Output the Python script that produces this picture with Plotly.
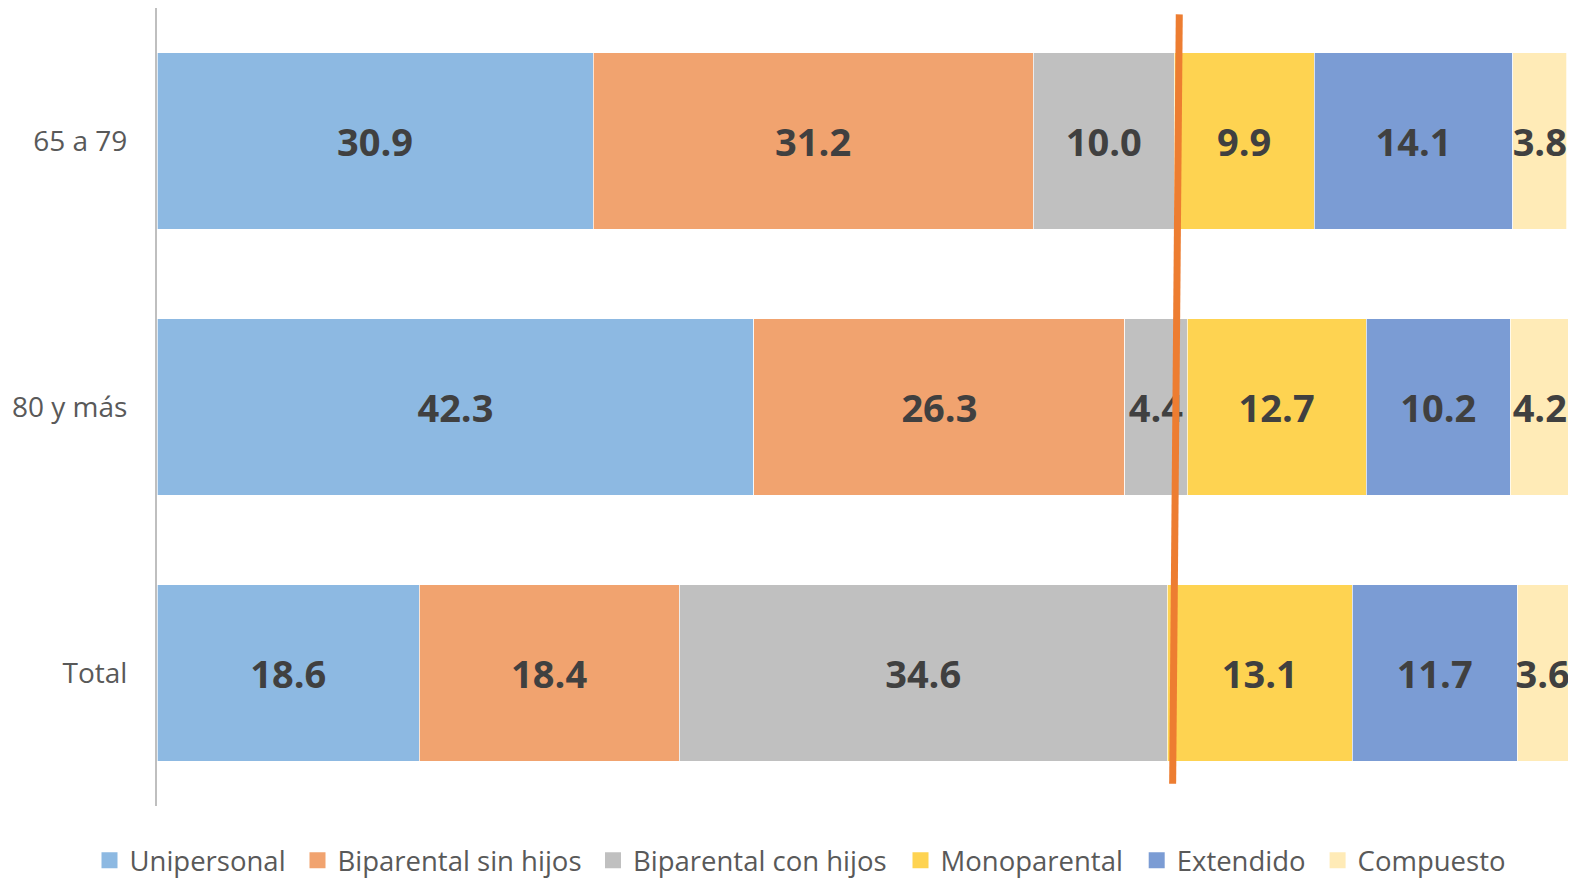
import plotly.graph_objects as go

categories = ["Total", "80 y más", "65 a 79"]
series_names = ["Unipersonal", "Biparental sin hijos", "Biparental con hijos",
                "Monoparental", "Extendido", "Compuesto"]
unipersonal = [18.6, 42.3, 30.9]
biparental_sin_hijos = [18.4, 26.3, 31.2]
biparental_con_hijos = [34.6, 4.4, 10.0]
monoparental = [13.1, 12.7, 9.9]
extendido = [11.7, 10.2, 14.1]
compuesto = [3.6, 4.2, 3.8]

values = [unipersonal, biparental_sin_hijos, biparental_con_hijos,
          monoparental, extendido, compuesto]
colors = ["#8DB9E2", "#F1A36F", "#C0C0C0", "#FED351", "#7B9CD4", "#FFEBB7"]

# hand-drawn marker line (data x at top / bottom)
marker_line_x = [72.45, 71.98]

# legend swatch centres (pixels in the figure)
legend_px = [109.5, 317.5, 613, 920.5, 1156.7, 1337.6]
PLOT_L, PLOT_W = 157, 1411

fig = go.Figure()
for name, vals, col in zip(series_names, values, colors):
    fig.add_trace(go.Bar(
        y=categories, x=vals, name=name, orientation="h", showlegend=False,
        marker=dict(color=col, line=dict(color="rgba(255,255,255,0.7)", width=1)),
        texttemplate="%{x:.1f}", textposition="inside", insidetextanchor="middle",
        textangle=0,
        textfont=dict(family="Open Sans", size=38, color="#404040", weight="bold"),
        hoverinfo="skip",
    ))

legend_layouts = {}
for i, (name, col) in enumerate(zip(series_names, colors)):
    lname = "legend" if i == 0 else f"legend{i+1}"
    fig.add_trace(go.Scatter(
        x=[None], y=[None], mode="markers", name=name, legend=lname,
        marker=dict(symbol="square", size=16, color=col), hoverinfo="skip",
    ))
    legend_layouts[lname] = dict(
        orientation="h", x=(legend_px[i] - 20 - PLOT_L) / PLOT_W, xanchor="left",
        y=-0.068, yanchor="middle", bgcolor="rgba(0,0,0,0)",
        font=dict(size=27.5, color="#595959"), itemwidth=30)

fig.add_shape(type="line", xref="x", yref="paper",
              x0=marker_line_x[0], y0=0.992, x1=marker_line_x[1], y1=0.028,
              line=dict(color="#ED7D31", width=7))

fig.update_layout(
    barmode="stack",
    bargap=0.335,
    width=1576, height=879,
    paper_bgcolor="white", plot_bgcolor="white",
    margin=dict(l=157, r=8, t=8, b=73, autoexpand=False),
    uniformtext=dict(minsize=38, mode="show"),
    font=dict(family="Open Sans", color="#595959"),
    showlegend=True,
    **legend_layouts,
)
fig.update_xaxes(range=[0, 100], showgrid=False, showticklabels=False,
                 zeroline=False, showline=False, fixedrange=True)
fig.update_yaxes(categoryorder="array", categoryarray=categories,
                 showgrid=False, showline=True, linecolor="#BFBFBF", linewidth=2,
                 ticks="", tickfont=dict(size=28, color="#595959"),
                 ticklabelstandoff=22, zeroline=False, fixedrange=True)

fig.write_html("out.html", config={"displayModeBar": False},
               post_script="document.body.style.margin='0';document.body.style.overflow='hidden';")
